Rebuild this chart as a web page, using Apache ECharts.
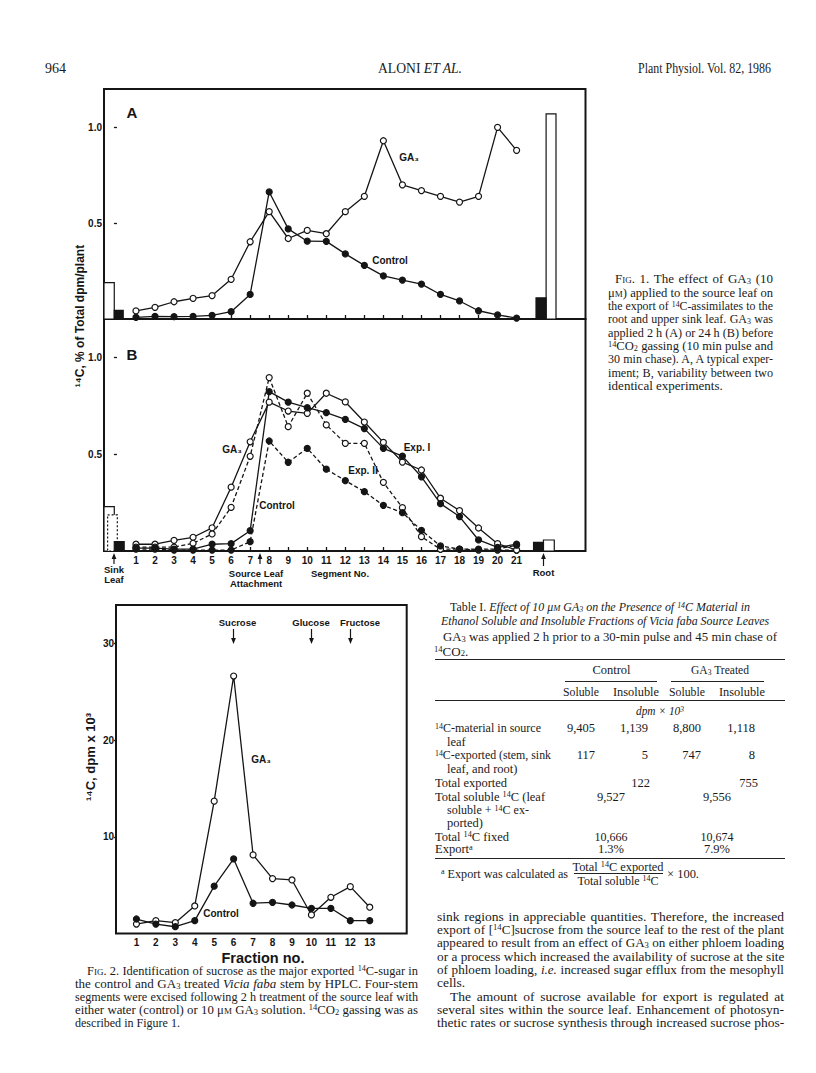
<!DOCTYPE html>
<html><head><meta charset="utf-8">
<script src="https://cdn.jsdelivr.net/npm/echarts@6/dist/echarts.min.js"></script>
<style>
html,body{margin:0;padding:0;background:#fff;}
#page{position:relative;width:816px;height:1073px;overflow:hidden;background:#fff;}
#chart{position:absolute;left:0;top:0;width:816px;height:1073px;}
.t{position:absolute;font-family:"Liberation Serif","Times New Roman",serif;color:#1a1a1a;white-space:nowrap;font-size:13px;line-height:12px;height:12px;}
.j{text-align:justify;text-align-last:justify;}
sub,sup{font-size:0.66em;line-height:0;vertical-align:baseline;position:relative;}
sup{top:-0.42em;}
sub{top:0.1em;}
.sc{font-variant:small-caps;}
.rule{position:absolute;background:#222;height:1px;}
</style></head>
<body><div id="page"><div id="chart"></div></div>
<script>
// ---------- DATA ----------
const segments = [1,2,3,4,5,6,7,8,9,10,11,12,13,14,15,16,17,18,19,20,21];
const segLabels = ['1','2','3','4','5','6','7','8','9','10','11','12','13','14','15','16','17','18','19','20','21'];
// Panel A (GA3 applied 2 h before gassing)
const A_GA3     = [0.042,0.061,0.090,0.108,0.122,0.207,0.403,0.560,0.420,0.462,0.445,0.560,0.640,0.930,0.700,0.670,0.640,0.610,0.640,1.000,0.880];
const A_Control = [0.009,0.014,0.012,0.014,0.019,0.038,0.128,0.663,0.470,0.406,0.405,0.340,0.280,0.225,0.203,0.182,0.128,0.094,0.043,0.021,0.005];
// Panel B (GA3 applied 24 h before gassing), two experiments
const B_GA3_I      = [0.035,0.035,0.055,0.071,0.120,0.330,0.565,0.770,0.724,0.712,0.816,0.771,0.667,0.562,0.460,0.419,0.273,0.209,0.119,0.038,0.005];
const B_GA3_II     = [0.020,0.020,0.020,0.040,0.088,0.226,0.490,0.897,0.643,0.816,0.652,0.557,0.557,0.355,0.224,0.074,0.009,0.010,0.005,0.005,0.005];
const B_Control_I  = [0.015,0.015,0.010,0.010,0.035,0.038,0.105,0.824,0.770,0.741,0.716,0.681,0.633,0.531,0.491,0.384,0.245,0.178,0.057,0.019,0.035];
const B_Control_II = [0.010,0.010,0.005,0.005,0.005,0.005,0.048,0.569,0.459,0.531,0.423,0.364,0.307,0.236,0.198,0.107,0.026,0.010,0.010,0.010,0.030];
// Sink leaf / root bars: [segment-axis start, segment-axis end, value]
const A_bars_GA3      = [[-0.68,-0.14,0.19],[22.55,23.07,1.07]];
const A_bars_Control  = [[-0.14,0.33,0.045],[22.02,22.55,0.11]];
const B_bars_GA3_I    = [[-0.68,-0.14,0.23],[22.41,22.98,0.057]];
const B_bars_GA3_II   = [[-0.49,0.02,0.187]];
const B_bars_Control  = [[-0.14,0.38,0.048],[21.89,22.41,0.045]];
const fig1YTicks = [0.5,1.0];
// Fig 2 (HPLC fractions)
const fractions = [1,2,3,4,5,6,7,8,9,10,11,12,13];
const F2_GA3     = [0.98,1.33,1.12,2.85,13.7,26.65,8.13,5.68,5.54,1.92,3.75,4.85,2.72];
const F2_Control = [1.50,0.98,0.70,1.33,4.90,7.72,3.13,3.23,2.95,2.61,2.61,1.33,1.33];
const fig2YTicks = [10,20,30];

// ---------- CHART ----------
const INK = '#151515';
const SANS = '"Liberation Sans", Arial, Helvetica, "DejaVu Sans", sans-serif';
const chart = echarts.init(document.getElementById('chart'), null, {renderer:'svg', width:816, height:1073});

function pairs(xs, ys){ return xs.map((x,i)=>[x, ys[i]]); }
function lineSeries(name, xi, xs, ys, filled, dashed){
  return {type:'line', name, xAxisIndex:xi, yAxisIndex:xi, data:pairs(xs,ys),
    symbol:'circle', symbolSize:6, showAllSymbol:true, animation:false, z:5,
    itemStyle:{color: filled?INK:'#fff', borderColor:INK, borderWidth:1.2},
    lineStyle:{color:INK, width:1.3, type: dashed?[4,2.5]:'solid'},
    emphasis:{disabled:true}, silent:true};
}
function barSeries(xi, data, fill, dashed){
  return {type:'custom', xAxisIndex:xi, yAxisIndex:xi, data, animation:false, silent:true, z:3,
    encode:{x:[0,1], y:2},
    renderItem:function(params, api){
      const p0 = api.coord([api.value(0), api.value(2)]);
      const p1 = api.coord([api.value(1), 0]);
      return {type:'rect', shape:{x:p0[0], y:p0[1], width:p1[0]-p0[0], height:p1[1]-p0[1]},
        style:{fill:fill, stroke:INK, lineWidth:1.2, lineDash: dashed?[2,2]:null}};
    }};
}
const labelStyle = {color:INK, fontFamily:SANS, fontWeight:'bold', fontSize:10};
function fig1X(gi, showLabels){
  return {type:'value', gridIndex:gi, min:-0.68, max:24.62,
    axisLine:{show:false}, splitLine:{show:false},
    axisTick:{show:true, inside:true, length:4, customValues:segments, lineStyle:{color:INK, width:1.3}},
    axisLabel: showLabels ? Object.assign({show:true, margin:4, customValues:segments,
        formatter:(v)=>segLabels[segments.indexOf(v)]}, labelStyle) : {show:false}};
}
function fig1Y(gi){
  return {type:'value', gridIndex:gi, min:0, max:1.2,
    axisLine:{show:false}, splitLine:{show:false},
    axisTick:{show:true, inside:false, length:3, customValues:fig1YTicks, lineStyle:{color:INK, width:1.3}},
    axisLabel:Object.assign({show:true, margin:2, customValues:fig1YTicks, formatter:(v)=>v.toFixed(1)}, labelStyle)};
}
function T(x, y, text, size, extra){
  return Object.assign({type:'text', x, y, z:50, silent:true,
    style:{text, font:'bold '+size+'px '+SANS, textAlign:'center', textVerticalAlign:'middle', fill:INK}}, extra||{});
}
function arrowUp(x, yTip, yTail){
  return {type:'group', silent:true, children:[
    {type:'line', shape:{x1:x, y1:yTail, x2:x, y2:yTip+4}, style:{stroke:INK, lineWidth:1.2}},
    {type:'polygon', shape:{points:[[x,yTip],[x-2.4,yTip+6],[x+2.4,yTip+6]]}, style:{fill:INK}}]};
}
function arrowDown(x, yTail, yTip){
  return {type:'group', silent:true, children:[
    {type:'line', shape:{x1:x, y1:yTail, x2:x, y2:yTip-4}, style:{stroke:INK, lineWidth:1.2}},
    {type:'polygon', shape:{points:[[x,yTip],[x-2.4,yTip-6],[x+2.4,yTip-6]]}, style:{fill:INK}}]};
}

const option = {
  backgroundColor:'#fff',
  animation:false,
  grid:[
    {left:104, top:89, width:481.5, height:230, show:true, borderColor:INK, borderWidth:2, backgroundColor:'transparent'},
    {left:104, top:319, width:481.5, height:232, show:true, borderColor:INK, borderWidth:2, backgroundColor:'transparent'},
    {left:116, top:605, width:290.7, height:328.5, show:true, borderColor:INK, borderWidth:2, backgroundColor:'transparent'}
  ],
  xAxis:[
    fig1X(0,false),
    fig1X(1,true),
    {type:'value', gridIndex:2, min:-0.05, max:14.9, axisLine:{show:false}, splitLine:{show:false},
     axisTick:{show:false},
     axisLabel:Object.assign({show:true, margin:4, customValues:fractions}, labelStyle)}
  ],
  yAxis:[
    fig1Y(0), fig1Y(1),
    {type:'value', gridIndex:2, min:0, max:34, axisLine:{show:false}, splitLine:{show:false},
     axisTick:{show:true, inside:false, length:3, customValues:fig2YTicks, lineStyle:{color:INK, width:1.3}},
     axisLabel:Object.assign({show:true, margin:2, customValues:fig2YTicks}, labelStyle)}
  ],
  series:[
    barSeries(0, A_bars_GA3, '#fff', false),
    barSeries(0, A_bars_Control, INK, false),
    lineSeries('GA3', 0, segments, A_GA3, false, false),
    lineSeries('Control', 0, segments, A_Control, true, false),
    barSeries(1, B_bars_GA3_I, '#fff', false),
    barSeries(1, B_bars_GA3_II, '#fff', true),
    barSeries(1, B_bars_Control, INK, false),
    lineSeries('GA3 Exp. I', 1, segments, B_GA3_I, false, false),
    lineSeries('GA3 Exp. II', 1, segments, B_GA3_II, false, true),
    lineSeries('Control Exp. I', 1, segments, B_Control_I, true, false),
    lineSeries('Control Exp. II', 1, segments, B_Control_II, true, true),
    lineSeries('GA3', 2, fractions, F2_GA3, false, false),
    lineSeries('Control', 2, fractions, F2_Control, true, false)
  ],
  graphic:{elements:[
    T(132, 112, 'A', 15),
    T(132, 354, 'B', 15),
    T(409, 157, 'GA₃', 10),
    T(390, 260, 'Control', 10),
    T(232, 449, 'GA₃', 10),
    T(277, 505, 'Control', 10),
    T(417, 447, 'Exp. I', 10),
    T(363, 470, 'Exp. II', 10),
    T(80, 316, '¹⁴C, % of Total dpm/plant', 12, {rotation:Math.PI/2}),
    arrowUp(114, 553, 564),
    T(114, 569, 'Sink', 9.5), T(114, 579.5, 'Leaf', 9.5),
    arrowUp(260, 553, 564),
    T(256, 573, 'Source Leaf', 9.5), T(256, 583.5, 'Attachment', 9.5),
    T(340, 573, 'Segment No.', 9.5),
    arrowUp(543.5, 553, 566),
    T(543.5, 572, 'Root', 9.5),
    // Fig 2
    T(237.5, 622, 'Sucrose', 9.5), T(311, 622, 'Glucose', 9.5), T(360, 622, 'Fructose', 9.5),
    arrowDown(233.5, 629, 644), arrowDown(311.5, 629, 644), arrowDown(350.5, 629, 644),
    T(261, 759, 'GA₃', 10),
    T(221, 913, 'Control', 10),
    T(90, 757, '¹⁴C, dpm x 10³', 13, {rotation:Math.PI/2}),
    T(263, 957.5, 'Fraction no.', 14.5)
  ]}
};
chart.setOption(option);

// ---------- PAGE TEXT ----------
const page = document.getElementById('page');
function add(html, x, y, o){
  o = o||{};
  const d = document.createElement('div');
  d.className = 't' + (o.w ? ' j' : '');
  let size = o.size||13;
  d.style.fontSize = size+'px';
  d.style.top = (y-6)+'px';
  d.style.left = x+'px';
  if (o.w) d.style.width = o.w+'px';
  if (o.italic) d.style.fontStyle='italic';
  d.innerHTML = html;
  page.appendChild(d);
  const base = o.align==='center' ? 'translateX(-50%)' : (o.align==='right' ? 'translateX(-100%)' : '');
  d.style.transformOrigin = o.align==='center' ? '50% 50%' : (o.align==='right' ? '100% 50%' : '0 50%');
  d.style.transform = base;
  if (o.w){
    while (d.scrollWidth > o.w + 0.5 && size > 7){ size -= 0.2; d.style.fontSize = size+'px'; }
  } else if (o.max){
    const w0 = d.getBoundingClientRect().width;
    if (w0 > o.max) d.style.transform = base + ' scaleX(' + (o.max/w0).toFixed(3) + ')';
  }
  return d;
}
function rule(x1, x2, y, h){
  const d = document.createElement('div'); d.className='rule';
  d.style.left=x1+'px'; d.style.width=(x2-x1)+'px'; d.style.top=y+'px'; d.style.height=(h||1)+'px';
  page.appendChild(d);
}
// header
add('964', 45, 69, {size:14});
add('ALONI <i>ET AL.</i>', 420, 69, {size:14, align:'center', max:84});
add('Plant Physiol. Vol. 82, 1986', 771, 69, {size:14, align:'right', max:133});

// Fig 1 caption
const f1 = [
 ['<span class="sc">Fig.</span> 1. The effect of GA<sub>3</sub> (10', 615, 158],
 ['μ<span class="sc">m</span>) applied to the source leaf on', 608, 165],
 ['the export of <sup>14</sup>C-assimilates to the', 608, 165],
 ['root and upper sink leaf. GA<sub>3</sub> was', 608, 165],
 ['applied 2 h (A) or 24 h (B) before', 608, 165],
 ['<sup>14</sup>CO<sub>2</sub> gassing (10 min pulse and', 608, 165],
 ['30 min chase). A, A typical exper-', 608, 165],
 ['iment; B, variability between two', 608, 165],
 ['identical experiments.', 608, 0]
];
f1.forEach((l,i)=> add(l[0], l[1], 279.3 + i*13.35, l[2] ? {w:l[2]} : {max:120}));

// Fig 2 caption
const f2 = [
 ['<span class="sc">Fig.</span> 2. Identification of sucrose as the major exported <sup>14</sup>C-sugar in', 87, 331],
 ['the control and GA<sub>3</sub> treated <i>Vicia faba</i> stem by HPLC. Four-stem', 75, 343],
 ['segments were excised following 2 h treatment of the source leaf with', 75, 343],
 ['either water (control) or 10 μ<span class="sc">m</span> GA<sub>3</sub> solution. <sup>14</sup>CO<sub>2</sub> gassing was as', 75, 343],
 ['described in Figure 1.', 75, 0]
];
f2.forEach((l,i)=> add(l[0], l[1], 970.7 + i*13, l[2] ? {w:l[2]} : {max:105}));

// Table I
const TS = 12.5;
add('Table I. <i>Effect of 10 μ<span class="sc">m</span> GA<sub>3</sub> on the Presence of <sup>14</sup>C Material in</i>', 600, 607.3, {align:'center', max:300, size:TS});
add('<i>Ethanol Soluble and Insoluble Fractions of Vicia faba Source Leaves</i>', 605, 620.7, {align:'center', max:328, size:TS});
add('GA<sub>3</sub> was applied 2 h prior to a 30-min pulse and 45 min chase of', 443, 637.2, {w:334});
add('<sup>14</sup>CO<sub>2</sub>.', 434, 651.5);
rule(435, 785, 659);
add('Control', 611.5, 670, {align:'center', size:TS, max:40});
add('GA<sub>3</sub> Treated', 720, 670, {align:'center', size:TS, max:58});
rule(565, 657, 681); rule(671, 764, 681);
add('Soluble', 581, 691.7, {align:'center', size:TS, max:36});
add('Insoluble', 636, 691.7, {align:'center', size:TS, max:46});
add('Soluble', 687, 691.7, {align:'center', size:TS, max:36});
add('Insoluble', 742, 691.7, {align:'center', size:TS, max:46});
rule(435, 785, 700);
add('dpm × 10<sup>3</sup>', 660, 711, {align:'center', italic:true, size:TS, max:48});
const rows = [
 ['<sup>14</sup>C-material in source', 435, 728.3, 106],
 ['leaf', 447, 741.7, 22],
 ['<sup>14</sup>C-exported (stem, sink', 435, 755, 116],
 ['leaf, and root)', 447, 768.5, 72],
 ['Total exported', 435, 782.5, 72],
 ['Total soluble <sup>14</sup>C (leaf', 435, 796.7, 110],
 ['soluble + <sup>14</sup>C ex-', 447, 810, 82],
 ['ported)', 447, 823.3, 36],
 ['Total <sup>14</sup>C fixed', 435, 836.7, 74],
 ['Export<sup>a</sup>', 435, 849.3, 38]
];
rows.forEach(r=>add(r[0], r[1], r[2], {max:r[3], size:TS}));
const tcol = [595, 648, 701, 755];
const row1 = ['9,405','1,139','8,800','1,118'];
const row2 = ['117','5','747','8'];
row1.forEach((v,i)=>add(v, tcol[i], 728.3, {align:'right', size:TS, max:30}));
row2.forEach((v,i)=>add(v, tcol[i], 755, {align:'right', size:TS, max:30}));
add('122', 650, 782.5, {align:'right', size:TS});
add('755', 758, 782.5, {align:'right', size:TS});
const mid = [611, 717];
['9,527','9,556'].forEach((v,i)=>add(v, mid[i], 796.7, {align:'center', size:TS, max:30}));
['10,666','10,674'].forEach((v,i)=>add(v, mid[i], 836.7, {align:'center', size:TS, max:33}));
['1.3%','7.9%'].forEach((v,i)=>add(v, mid[i], 849.3, {align:'center', size:TS, max:26}));
rule(435, 785, 857.5);
add('<sup>a</sup> Export was calculated as', 441, 873.5, {max:127, size:TS});
add('Total <sup>14</sup>C exported', 618, 866.5, {align:'center', max:91, size:TS});
rule(574, 663, 873);
add('Total soluble <sup>14</sup>C', 618, 880.5, {align:'center', max:81, size:TS});
add('× 100.', 667, 873.5, {max:32, size:TS});

// body text
const body = [
 ['sink regions in appreciable quantities. Therefore, the increased', 437, 347],
 ['export of [<sup>14</sup>C]sucrose from the source leaf to the rest of the plant', 437, 347],
 ['appeared to result from an effect of GA<sub>3</sub> on either phloem loading', 437, 347],
 ['or a process which increased the availability of sucrose at the site', 437, 347],
 ['of phloem loading, <i>i.e.</i> increased sugar efflux from the mesophyll', 437, 347],
 ['cells.', 437, 0],
 ['The amount of sucrose available for export is regulated at', 450, 334],
 ['several sites within the source leaf. Enhancement of photosyn-', 437, 347],
 ['thetic rates or sucrose synthesis through increased sucrose phos-', 437, 347]
];
body.forEach((l,i)=> add(l[0], l[1], 916.7 + i*13.33, l[2] ? {w:l[2], size:13.5} : {size:13.5, max:30}));
</script>
</body></html>
